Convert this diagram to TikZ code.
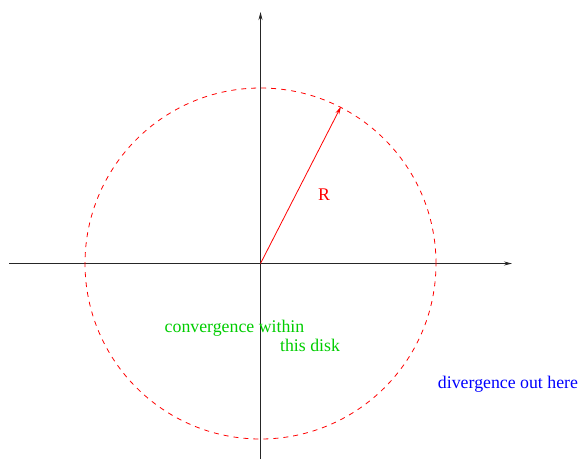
\documentclass[tikz,border=0pt]{standalone}
\usepackage{fontspec}
\setmainfont{Liberation Serif}
\usetikzlibrary{arrows.meta}
\definecolor{myred}{RGB}{255,0,0}
\definecolor{mygreen}{RGB}{0,205,0}
\definecolor{myblue}{RGB}{0,0,255}
\tikzset{
  axis/.style={line width=0.9pt, black!85, -{Stealth[length=8pt,width=4pt]}},
  disk/.style={myred, line width=0.8pt, dash pattern=on 5pt off 5pt},
  radline/.style={myred, line width=0.8pt, -{Stealth[length=8pt,width=4pt]}},
  lbl/.style={inner sep=0pt, font=\fontsize{17.8}{20}\selectfont},
}
\begin{document}
\begin{tikzpicture}[x=1pt,y=-1pt]
\useasboundingbox (0,0) rectangle (578,459);
\coordinate (O) at (260.5,263.5);
\coordinate (xl) at (9,263.5);
\coordinate (xr) at (512,263.5);
\coordinate (yb) at (260.5,459);
\coordinate (yt) at (260.5,12);
\coordinate (P) at (341,106.5);
\draw[axis] (xl) -- (xr);
\draw[axis] (yb) -- (yt);
\draw[disk] (O) circle[radius=175.5pt];
\draw[radline] (O) -- (P);
\node[lbl, text=myred, anchor=base] (R) at (324,200.7) {R};
\node[lbl, text=mygreen, anchor=base] (c1) at (234.5,332.7) {convergence within};
\node[lbl, text=mygreen, anchor=base] (c2) at (310,351.7) {this disk};
\node[lbl, text=myblue, anchor=base] (d) at (508,388) {divergence out here};
\end{tikzpicture}
\end{document}
